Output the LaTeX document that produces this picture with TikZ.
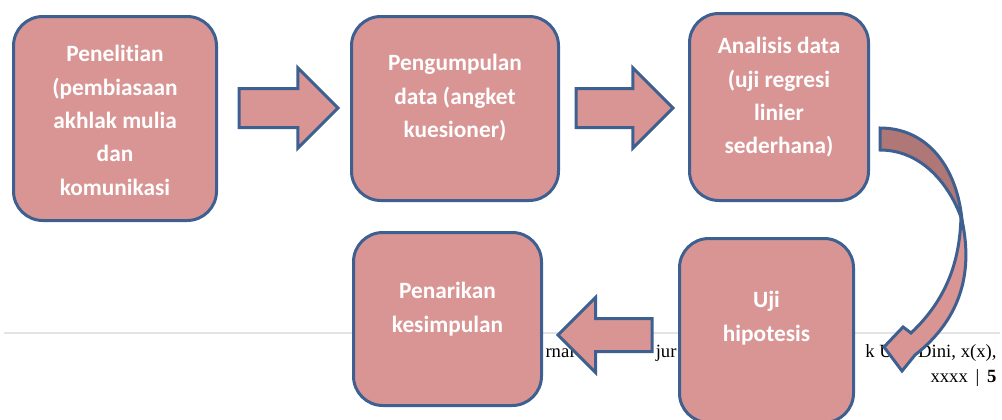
\documentclass[tikz,border=0pt]{standalone}
\usepackage{fontspec}
\setmainfont{Liberation Serif}
\newfontfamily\carlito[Ligatures=NoCommon]{Carlito}
\usetikzlibrary{shapes.arrows}
\definecolor{boxfill}{HTML}{D99594}
\definecolor{boxline}{HTML}{3D6091}
\definecolor{backfill}{HTML}{AF7775}
\definecolor{rulegray}{HTML}{E3E3E3}
\tikzset{every picture/.style={line width=0.75pt}}
\tikzset{
  box/.style={draw=boxline, fill=boxfill, line width=2.25pt, rounded corners=22pt, inner sep=0pt},
  boxtext/.style={anchor=north, inner sep=0pt, align=center, text=white, font=\carlito\bfseries\fontsize{17.5}{25}\selectfont},
  blockarrow/.style={single arrow, draw=boxline, fill=boxfill, line width=2.25pt, inner xsep=0pt, single arrow head indent=0pt, anchor=tail},
  footer/.style={inner sep=0pt, font=\fontsize{14}{16}\selectfont}
}
\begin{document}
\begin{tikzpicture}[x=0.75pt,y=0.75pt,yscale=-1,xscale=1]
\useasboundingbox (0,0) rectangle (1002,419);

%Straight Lines
\draw [color=rulegray, line width=1.2pt] (4,333) -- (1000,333) ;

% Text Node
\node (f1) [footer, anchor=base west] at (545,357) {rnal};
\node (f2) [footer, anchor=base east] at (677,357) {jur};
\node (f3) [footer, anchor=base east] at (997,357) {k Usia Dini, x(x),};
\node (f4) [footer, anchor=base east] at (997,382) {xxxx \,|\, \textbf{5}};

%Rounded Rect
\node (b1) [box, minimum width=152.25pt, minimum height=153pt] at (115,118.5) {};
%Rounded Rect
\node (b2) [box, minimum width=155.25pt, minimum height=138pt] at (455,108.5) {};
%Rounded Rect
\node (b3) [box, minimum width=134.25pt, minimum height=140.25pt] at (779,107) {};
%Rounded Rect
\node (b4) [box, minimum width=130.5pt, minimum height=138pt] at (766.5,330.5) {};
%Rounded Rect
\node (b5) [box, minimum width=141pt, minimum height=129.75pt] at (447.5,319) {};

%Right Arrow
\node (a1) [blockarrow, minimum height=74.25pt, inner ysep=13.5pt, single arrow head extend=15.4pt] at (237.5,108) {};
%Right Arrow
\node (a2) [blockarrow, minimum height=72.75pt, inner ysep=13.5pt, single arrow head extend=15.4pt] at (574.5,108) {};
%Left Arrow
\node (a3) [blockarrow, shape border rotate=180, minimum height=70.5pt, inner ysep=11.25pt, single arrow head extend=15.75pt] at (653.5,335) {};

%Curve Lines
\draw [draw=boxline, fill=backfill, line width=2.25pt] (880,128) .. controls (928,128) and (957,168) .. (962,220) .. controls (950,185) and (922,150) .. (880,150) -- cycle ;
%Curve Lines
\draw [draw=boxline, fill=boxfill, line width=2.25pt] (961,216) .. controls (974,270) and (962,318) .. (915,355) -- (902,371) -- (884,347) -- (903,327) -- (911,333) .. controls (946,300) and (960,262) .. (961,216) -- cycle ;

% Text Node
\node (t1) [boxtext] at (115,45) {Penelitian\\(pembiasaan\\akhlak mulia\\dan\\komunikasi};
\node (t2) [boxtext] at (455,54) {Pengumpulan\\data (angket\\kuesioner)};
\node (t3) [boxtext] at (779,37) {Analisis data\\(uji regresi\\linier\\sederhana)};
\node (t4) [boxtext] at (766.5,291) {Uji\\hipotesis};
\node (t5) [boxtext] at (447.5,282) {Penarikan\\kesimpulan};

\end{tikzpicture}
\end{document}
